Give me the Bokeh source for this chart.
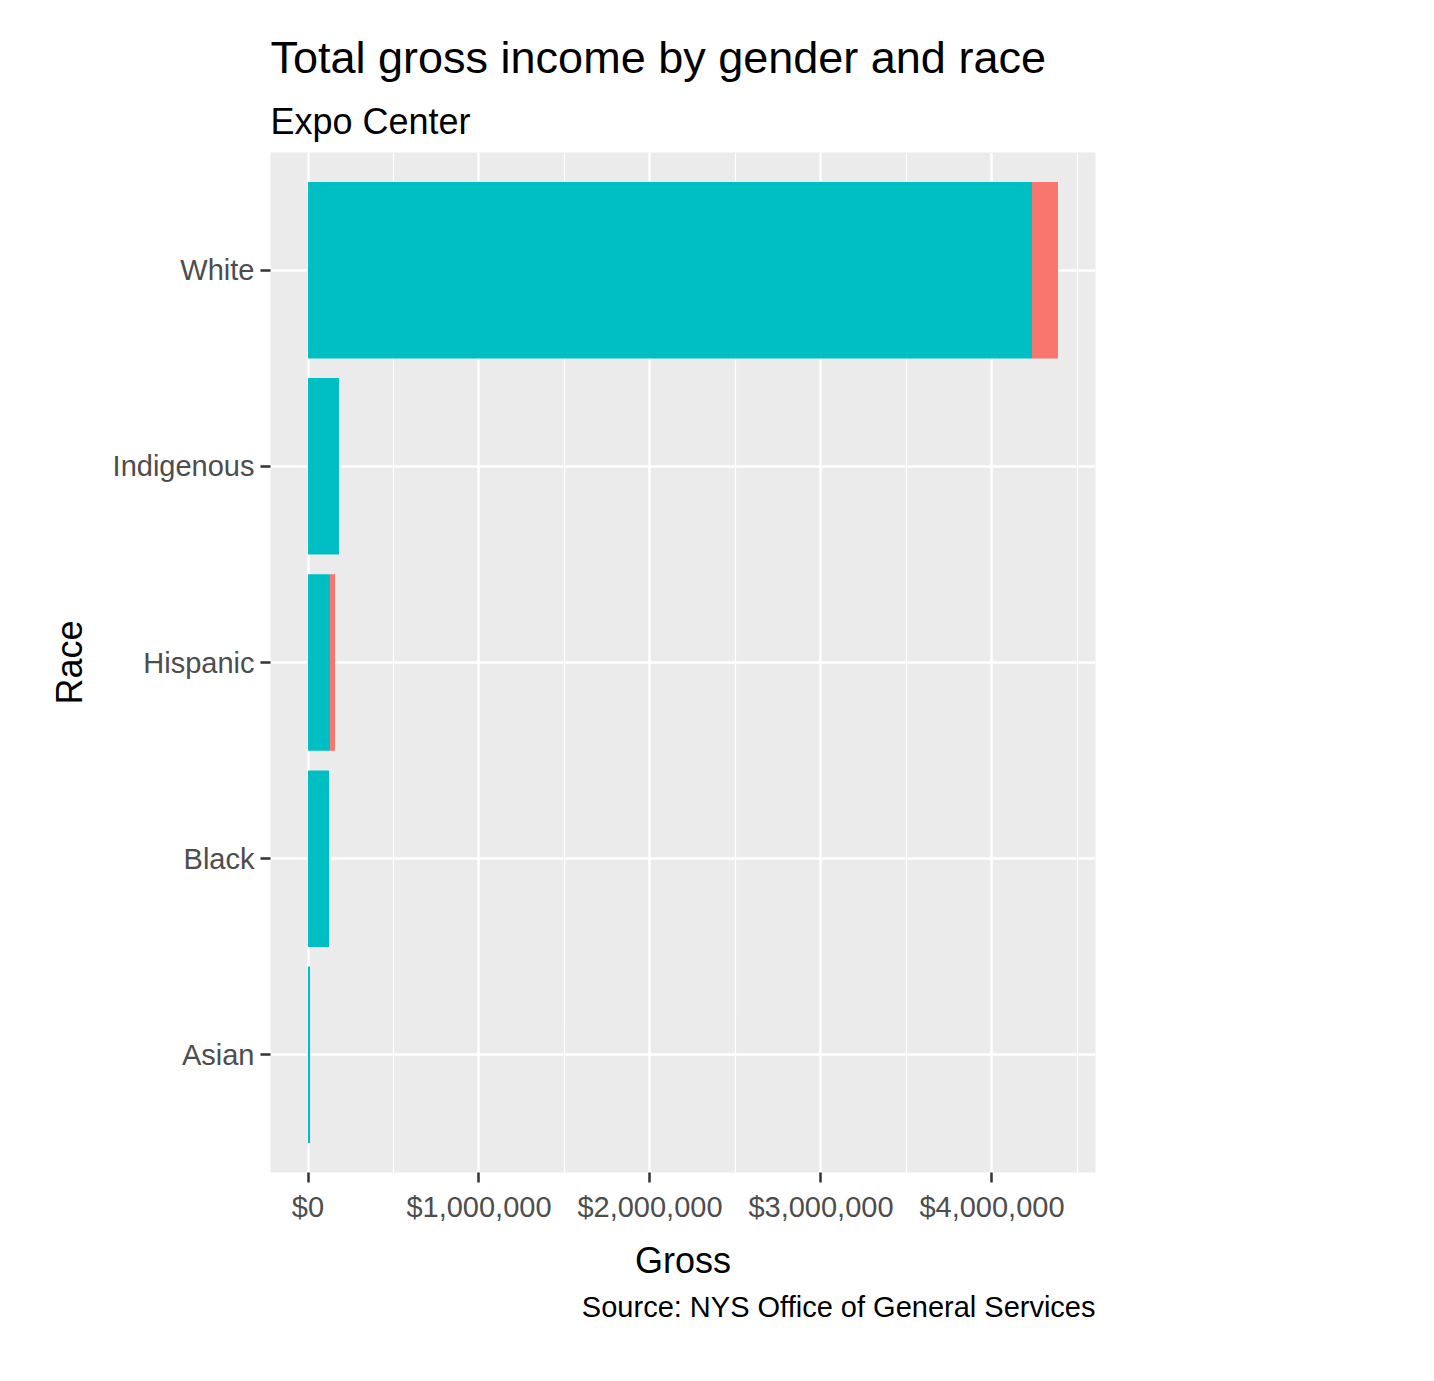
from bokeh.plotting import figure
from bokeh.models import (ColumnDataSource, Range1d, FixedTicker, NumeralTickFormatter,
                          Title, Legend, LegendItem)
from bokeh.embed import file_html
from bokeh.resources import INLINE

races = ["Asian", "Black", "Hispanic", "Indigenous", "White"]
male = [12000, 123000, 129000, 181000, 4234000]
female = [0, 0, 29000, 0, 152000]
xticks = [0, 1000000, 2000000, 3000000, 4000000]

ypos = list(range(1, len(races) + 1))
src = ColumnDataSource(dict(y=ypos, male=male, female=female))

FONT = "Liberation Sans"
p = figure(width=1418, height=1365, frame_width=825, frame_height=1020,
           output_backend="svg", toolbar_location=None,
           x_range=Range1d(-219300, 4605300), y_range=Range1d(0.4, 5.6),
           min_border_left=270, min_border_right=315, min_border_top=152, min_border_bottom=185)
p.title.visible = False

rs = p.hbar_stack(["male", "female"], y="y", height=0.9, color=["#00BFC4", "#F8766D"],
                  source=src, line_width=0)

p.background_fill_color = "#EBEBEB"
p.border_fill_color = "white"
p.outline_line_color = None

p.xaxis.ticker = FixedTicker(ticks=xticks, minor_ticks=[-500000, 500000, 1500000, 2500000, 3500000, 4500000])
p.xaxis.formatter = NumeralTickFormatter(format="$0,0")
p.yaxis.ticker = FixedTicker(ticks=ypos)
p.yaxis.major_label_overrides = {i: r for i, r in zip(ypos, races)}
for ax in (p.xaxis, p.yaxis):
    ax.axis_line_color = None
    ax.major_tick_line_color = "#333333"
    ax.major_tick_line_width = 2.5
    ax.major_tick_in = 0
    ax.major_tick_out = 10
    ax.minor_tick_line_color = None
    ax.major_label_text_font = FONT
    ax.major_label_text_font_size = "29px"
    ax.major_label_text_color = "#4D4D4D"
    ax.axis_label_text_font = FONT
    ax.axis_label_text_font_size = "36px"
    ax.axis_label_text_font_style = "normal"
    ax.axis_label_text_color = "black"
p.xaxis.axis_label = "Gross"
p.yaxis.axis_label = "Race"
p.xaxis.major_label_standoff = 8
p.yaxis.major_label_standoff = 6
p.xaxis.axis_label_standoff = 14
p.yaxis.axis_label_standoff = 20

p.xgrid.grid_line_color = "white"
p.xgrid.grid_line_width = 2.5
p.xgrid.minor_grid_line_color = "white"
p.xgrid.minor_grid_line_width = 1.2
p.ygrid.ticker = FixedTicker(ticks=ypos)
p.ygrid.grid_line_color = "white"
p.ygrid.grid_line_width = 2.5

p.add_layout(Title(text="Expo Center", text_font=FONT, text_font_size="36px", text_color="black",
                   text_font_style="normal", align="left", standoff=22), "above")
p.add_layout(Title(text="Total gross income by gender and race", text_font=FONT, text_color="black",
                   text_font_size="45px", text_font_style="normal", align="left"), "above")
p.add_layout(Title(text="Source: NYS Office of General Services", text_font=FONT, text_color="black",
                   text_font_size="29px", text_font_style="normal", align="right"), "below")

legend = Legend(items=[LegendItem(label="Female", renderers=[rs[1]]),
                       LegendItem(label="Male", renderers=[rs[0]])],
                title="Gender", location=(887, 398), title_text_font=FONT,
                title_text_font_style="normal", title_text_color="black",
                title_text_font_size="36px", label_text_font=FONT, label_text_font_size="29px",
                label_text_color="black",
                glyph_width=66, glyph_height=66, label_standoff=26, spacing=6,
                border_line_color=None, background_fill_alpha=0, margin=0, padding=0,
                title_standoff=20)
p.add_layout(legend, "center")

open("out.html", "w").write(file_html(p, INLINE))
